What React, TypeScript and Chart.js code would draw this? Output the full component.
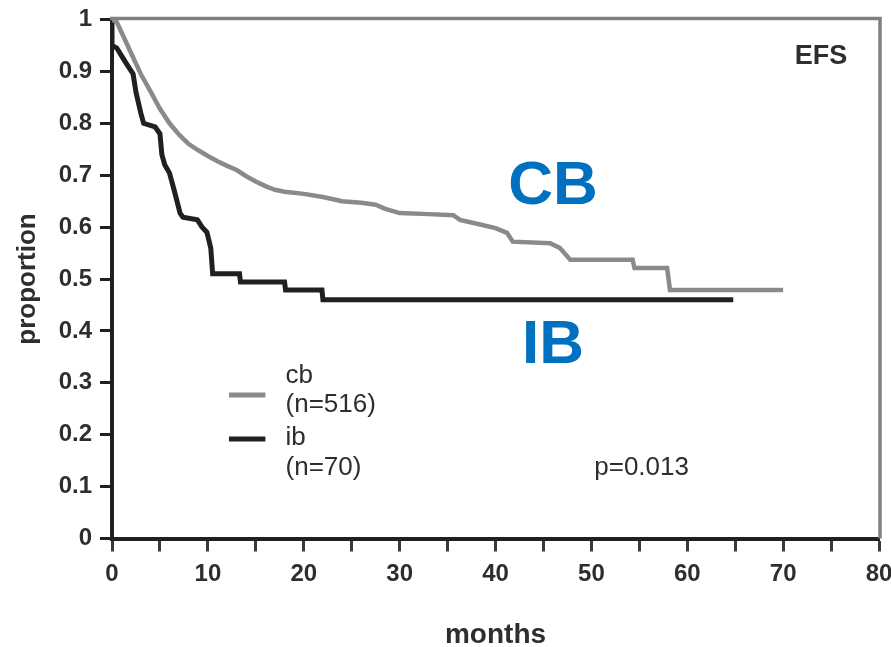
import React, { useEffect, useRef } from "react";
import { Chart, registerables } from "chart.js";

Chart.register(...registerables);

// ---- data (months, proportion event-free) ----
const cbMonths = [0, 0.5, 1, 2, 3, 4, 5, 6, 7, 8, 9, 10, 11, 12, 13, 14, 15, 16, 17, 18, 20, 22, 24, 26, 27.5, 28.5, 30, 33, 35.6, 36.3, 38.4, 40, 41.2, 41.8, 45.7, 46.7, 47.8, 54.3, 54.5, 57.9, 58.2, 70];
const cbSurvival = [1, 0.995, 0.975, 0.935, 0.895, 0.862, 0.828, 0.8, 0.778, 0.76, 0.748, 0.737, 0.727, 0.718, 0.71, 0.698, 0.688, 0.679, 0.672, 0.668, 0.664, 0.658, 0.65, 0.647, 0.643, 0.635, 0.627, 0.625, 0.623, 0.614, 0.605, 0.598, 0.589, 0.572, 0.569, 0.56, 0.537, 0.537, 0.521, 0.521, 0.479, 0.479];

const ibMonths = [0, 0, 0.5, 1, 1.5, 2.2, 2.5, 3, 3.3, 4.5, 5, 5.2, 5.5, 6, 6.5, 7.1, 7.4, 8.9, 9.4, 9.9, 10.3, 10.5, 13.3, 13.4, 18, 18.1, 21.9, 22, 64.8];
const ibSurvival = [1, 0.95, 0.945, 0.93, 0.915, 0.895, 0.86, 0.82, 0.8, 0.793, 0.78, 0.74, 0.72, 0.704, 0.67, 0.627, 0.619, 0.614, 0.6, 0.59, 0.56, 0.51, 0.51, 0.494, 0.494, 0.479, 0.479, 0.46, 0.46];

const xTickLabels = ["0", "10", "20", "30", "40", "50", "60", "70", "80"];
const yTickLabels = ["0", "0.1", "0.2", "0.3", "0.4", "0.5", "0.6", "0.7", "0.8", "0.9", "1"];

const seriesNames = ["cb", "ib"];
const seriesCounts = ["(n=516)", "(n=70)"];
const groupLabels = ["CB", "IB"];
const pValueText = "p=0.013";
const endpointText = "EFS";
const xTitle = "months";
const yTitle = "proportion";

const GRAY = "#8a8a8a";
const BLACK = "#231f20";
const BLUE = "#0070c0";
const TEXT = "#2e2e2e";
const FONT = "'Liberation Sans', Arial, sans-serif";

const toPoints = (xs: number[], ys: number[]) => xs.map((x, i) => ({ x, y: ys[i] }));

const annotationPlugin = {
  id: "kmAnnotations",
  afterDraw(chart: any) {
    const { ctx, chartArea, scales } = chart;
    const { left, top, right, bottom } = chartArea;
    const xs = scales.x;
    const ys = scales.y;
    const X = (v: number) => xs.getPixelForValue(v);
    const Y = (v: number) => ys.getPixelForValue(v);
    ctx.save();

    // frame (top and right), grey
    ctx.strokeStyle = "#808080";
    ctx.lineWidth = 3.5;
    ctx.lineCap = "butt";
    ctx.beginPath();
    ctx.moveTo(left - 2, top - 1);
    ctx.lineTo(right + 1, top - 1);
    ctx.lineTo(right + 1, bottom);
    ctx.stroke();

    // legend lines
    ctx.lineWidth = 5;
    ctx.strokeStyle = GRAY;
    ctx.beginPath();
    ctx.moveTo(X(12.2), Y(0.2765));
    ctx.lineTo(X(16.0), Y(0.2765));
    ctx.stroke();
    ctx.strokeStyle = BLACK;
    ctx.beginPath();
    ctx.moveTo(X(12.2), Y(0.1917));
    ctx.lineTo(X(16.0), Y(0.1917));
    ctx.stroke();

    // legend text
    ctx.fillStyle = TEXT;
    ctx.textAlign = "left";
    ctx.textBaseline = "alphabetic";
    ctx.font = `26px ${FONT}`;
    const tx = X(18.1);
    ctx.fillText(seriesNames[0], tx, Y(0.2996));
    ctx.fillText(seriesCounts[0], tx, Y(0.2437));
    ctx.fillText(seriesNames[1], tx, Y(0.1801));
    ctx.fillText(seriesCounts[1], tx, Y(0.1223));
    ctx.fillText(pValueText, X(50.3), Y(0.1223));

    // endpoint label
    ctx.font = `bold 27px ${FONT}`;
    ctx.fillText(endpointText, X(71.2), Y(0.9152));

    // group labels
    ctx.fillStyle = BLUE;
    ctx.textAlign = "center";
    ctx.font = `bold 62px ${FONT}`;
    ctx.fillText(groupLabels[0], X(46.0), Y(0.6445));
    ctx.fillText(groupLabels[1], X(46.0), Y(0.3382));

    ctx.restore();
  },
};

export default function App() {
  const canvasRef = useRef<HTMLCanvasElement | null>(null);

  useEffect(() => {
    const canvas = canvasRef.current;
    if (!canvas) return;
    const chart = new Chart(canvas, {
      type: "line",
      data: {
        datasets: [
          {
            label: seriesNames[0],
            data: toPoints(cbMonths, cbSurvival),
            borderColor: GRAY,
            borderWidth: 4.5,
            pointRadius: 0,
            tension: 0,
            fill: false,
            borderJoinStyle: "miter",
          },
          {
            label: seriesNames[1],
            data: toPoints(ibMonths, ibSurvival),
            borderColor: BLACK,
            borderWidth: 5,
            pointRadius: 0,
            tension: 0,
            fill: false,
            borderJoinStyle: "miter",
          },
        ],
      },
      options: {
        animation: false,
        responsive: false,
        maintainAspectRatio: false,
        layout: { padding: { top: 19.5, right: 12, left: 0, bottom: 0 } },
        plugins: {
          legend: { display: false },
          tooltip: { enabled: false },
          title: { display: false },
        },
        scales: {
          x: {
            type: "linear",
            min: 0,
            max: 80,
            afterFit: (scale: any) => {
              scale.height = 108.5;
              scale.paddingLeft = 0;
              scale.paddingRight = 0;
            },
            border: { display: true, color: BLACK, width: 4 },
            grid: {
              drawOnChartArea: false,
              drawTicks: true,
              tickLength: 13,
              tickWidth: 3,
              tickColor: "#3a3a3a",
            },
            ticks: {
              stepSize: 5,
              autoSkip: false,
              maxRotation: 0,
              padding: 8,
              color: TEXT,
              font: { family: FONT, size: 24, weight: "bold" },
              callback: (value: any, index: number) =>
                index % 2 === 0 ? xTickLabels[index / 2] : "",
            },
            title: {
              display: true,
              text: xTitle,
              color: TEXT,
              font: { family: FONT, size: 28, weight: "bold", lineHeight: 0.85 },
              padding: { top: 0, bottom: 0 },
            },
          },
          y: {
            type: "linear",
            min: 0,
            max: 1,
            afterFit: (scale: any) => {
              scale.width = 112;
              scale.paddingTop = 0;
              scale.paddingBottom = 0;
            },
            border: { display: true, color: BLACK, width: 4 },
            grid: {
              drawOnChartArea: false,
              drawTicks: true,
              tickLength: 12,
              tickWidth: 3,
              tickColor: BLACK,
            },
            ticks: {
              stepSize: 0.1,
              autoSkip: false,
              padding: 8,
              color: TEXT,
              font: { family: FONT, size: 24, weight: "bold" },
              callback: (value: any, index: number) => yTickLabels[index],
            },
            title: {
              display: true,
              text: yTitle,
              color: TEXT,
              font: { family: FONT, size: 26, weight: "bold" },
              padding: { top: 12, bottom: 0 },
            },
          },
        },
      },
      plugins: [annotationPlugin],
    } as any);
    return () => chart.destroy();
  }, []);

  return (
    <div style={{ position: "absolute", left: 0, top: 0, width: 891, height: 647, background: "#fff" }}>
      <canvas ref={canvasRef} width={891} height={647} style={{ display: "block", width: 891, height: 647 }} />
    </div>
  );
}
